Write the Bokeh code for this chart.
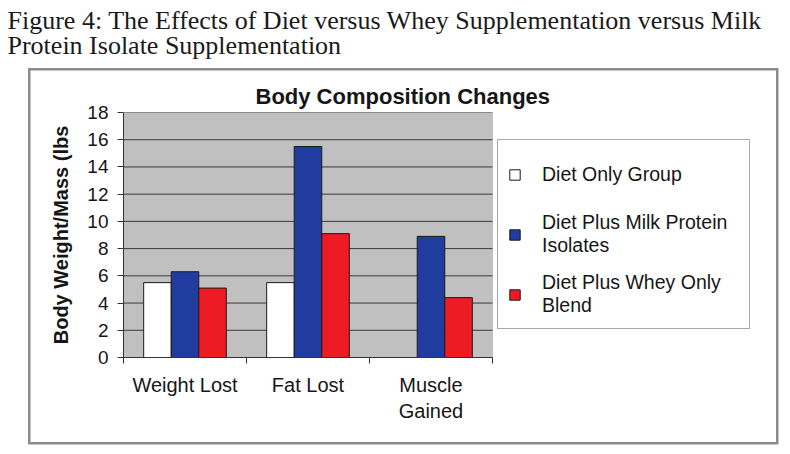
from bokeh.plotting import figure
from bokeh.models import (Range1d, LinearAxis, FixedTicker, ColumnDataSource, Title,
                          Legend, LegendItem, BoxAnnotation)
from bokeh.transform import dodge
from bokeh.embed import file_html
from bokeh.resources import INLINE

# ---- data ----
categories = ["Weight Lost", "Fat Lost", "Muscle Gained"]
category_labels = ["Weight Lost", "Fat Lost", "Muscle\nGained"]
diet_only = [5.5, 5.5, 0.0]
milk_protein = [6.3, 15.5, 8.9]
whey_only = [5.1, 9.1, 4.4]
y_ticks = [0, 2, 4, 6, 8, 10, 12, 14, 16, 18]
series_names = ["Diet Only Group", "Diet Plus Milk Protein\nIsolates", "Diet Plus Whey Only\nBlend"]
series_colors = ["#ffffff", "#1f3c9e", "#ec1b24"]

caption_lines = ["Figure 4: The Effects of Diet versus Whey Supplementation versus Milk",
                 "Protein Isolate Supplementation"]
chart_title = "Body Composition Changes"
y_title = "Body Weight/Mass (lbs"

SANS = "Liberation Sans"
SERIF = "Liberation Serif"
INK = "#161616"

# each category occupies one unit slot on the x axis
n = len(categories)
slot_centers = [i + 0.5 for i in range(n)]
slot_edges = [float(i) for i in range(n + 1)]
y_max = y_ticks[-1]

source = ColumnDataSource(dict(cat=categories, pos=slot_centers,
                               diet=diet_only, milk=milk_protein, whey=whey_only))
grid_source = ColumnDataSource(dict(y=y_ticks, x0=[0.0] * len(y_ticks), x1=[float(n)] * len(y_ticks)))

# canvas layout: plot area spans x 123..492, y 112..357; the frame continues to the
# right edge so that the legend can sit beside the plot area
L, R, T, B = 123, 492, 112, 357
W, H = 790, 454

p = figure(width=W, height=H,
           x_range=Range1d(0, n * (W - L) / (R - L)), y_range=Range1d(0, y_max),
           x_axis_location=None, y_axis_location=None,
           min_border_left=L, min_border_right=0, min_border_top=T, min_border_bottom=H - B,
           output_backend="svg", toolbar_location=None)
p.background_fill_alpha = 0
p.border_fill_alpha = 0
p.outline_line_color = None
p.xgrid.visible = False
p.ygrid.visible = False

# grey frame around the whole chart block
frame_css = "linear-gradient(#8c8c8c, #8c8c8c)"
p.styles = {
    "background-color": "white",
    "background-image": ", ".join([frame_css] * 4),
    "background-size": "750px 2.5px, 750px 2.5px, 2.5px 376px, 2.5px 376px",
    "background-position": "28px 68px, 28px 442px, 28px 68px, 776px 68px",
    "background-repeat": "no-repeat",
}

# grey plot area and its horizontal grid lines
p.add_layout(BoxAnnotation(left=0, right=n, bottom=0, top=y_max, level="underlay",
                           fill_color="#c0c0c0", fill_alpha=1,
                           line_color="#7a7a7a", line_width=1))
p.segment(x0="x0", x1="x1", y0="y", y1="y", source=grid_source,
          line_color="#3a3a3a", line_width=1)

# y axis
yaxis = LinearAxis(ticker=FixedTicker(ticks=y_ticks, minor_ticks=[]),
                   axis_label=y_title,
                   axis_label_text_font=SANS, axis_label_text_font_style="bold",
                   axis_label_text_font_size="20px", axis_label_text_color=INK,
                   axis_label_standoff=12,
                   major_label_text_font=SANS, major_label_text_font_size="19px",
                   major_label_text_color=INK, major_label_standoff=9,
                   major_tick_in=0, major_tick_out=6, major_tick_line_color="#333333",
                   axis_line_color="#333333", minor_tick_line_color=None)
p.add_layout(yaxis, "left")

# x axis: category names at slot centres, tick marks at slot boundaries
xaxis = LinearAxis(ticker=FixedTicker(ticks=slot_centers, minor_ticks=slot_edges),
                   bounds=(0, n),
                   major_label_overrides={c: lab for c, lab in zip(slot_centers, category_labels)},
                   major_tick_line_color=None, major_tick_in=0, major_tick_out=0,
                   minor_tick_line_color="#333333", minor_tick_in=0, minor_tick_out=6,
                   axis_line_color="#333333",
                   major_label_text_font=SANS, major_label_text_font_size="20px",
                   major_label_text_color=INK, major_label_standoff=10)
p.add_layout(xaxis, "below")

# grouped bars
bw = 0.224
renderers = []
for field, off, color in [("diet", -bw, series_colors[0]),
                          ("milk", 0.0, series_colors[1]),
                          ("whey", bw, series_colors[2])]:
    renderers.append(p.vbar(x=dodge("pos", off), top=field, width=bw, source=source,
                            fill_color=color, line_color="#1a1a1a", line_width=1))

# caption (outermost) and chart title above the plot area
p.title.text = caption_lines[0]
p.title.align = "left"
p.title.offset = -116
p.title.standoff = -48
p.title.text_font = SERIF
p.title.text_font_style = "normal"
p.title.text_font_size = "26px"
p.title.text_color = "#1a1a1a"
title_obj = Title(text=chart_title, align="left", offset=132, standoff=8,
                  text_font=SANS, text_font_style="bold", text_font_size="22px", text_color=INK)
caption2 = Title(text=caption_lines[1], align="left", offset=-116, standoff=36,
                 text_font=SERIF, text_font_style="normal", text_font_size="26px",
                 text_color="#1a1a1a")
p.above = [title_obj, caption2]

# legend beside the plot area
legend = Legend(items=[LegendItem(label=nm, renderers=[r]) for nm, r in zip(series_names, renderers)],
                location=(497 - L, B - 329), margin=0, padding=10, spacing=12,
                glyph_width=13, glyph_height=13, label_standoff=21, label_width=197,
                label_height=48,
                label_text_font=SANS, label_text_font_size="19.5px", label_text_color=INK,
                label_text_line_height=1.3,
                border_line_color="#555555", border_line_width=1.5,
                background_fill_color="white", background_fill_alpha=1)
p.add_layout(legend, "center")

open("out.html", "w").write(file_html(p, INLINE))
